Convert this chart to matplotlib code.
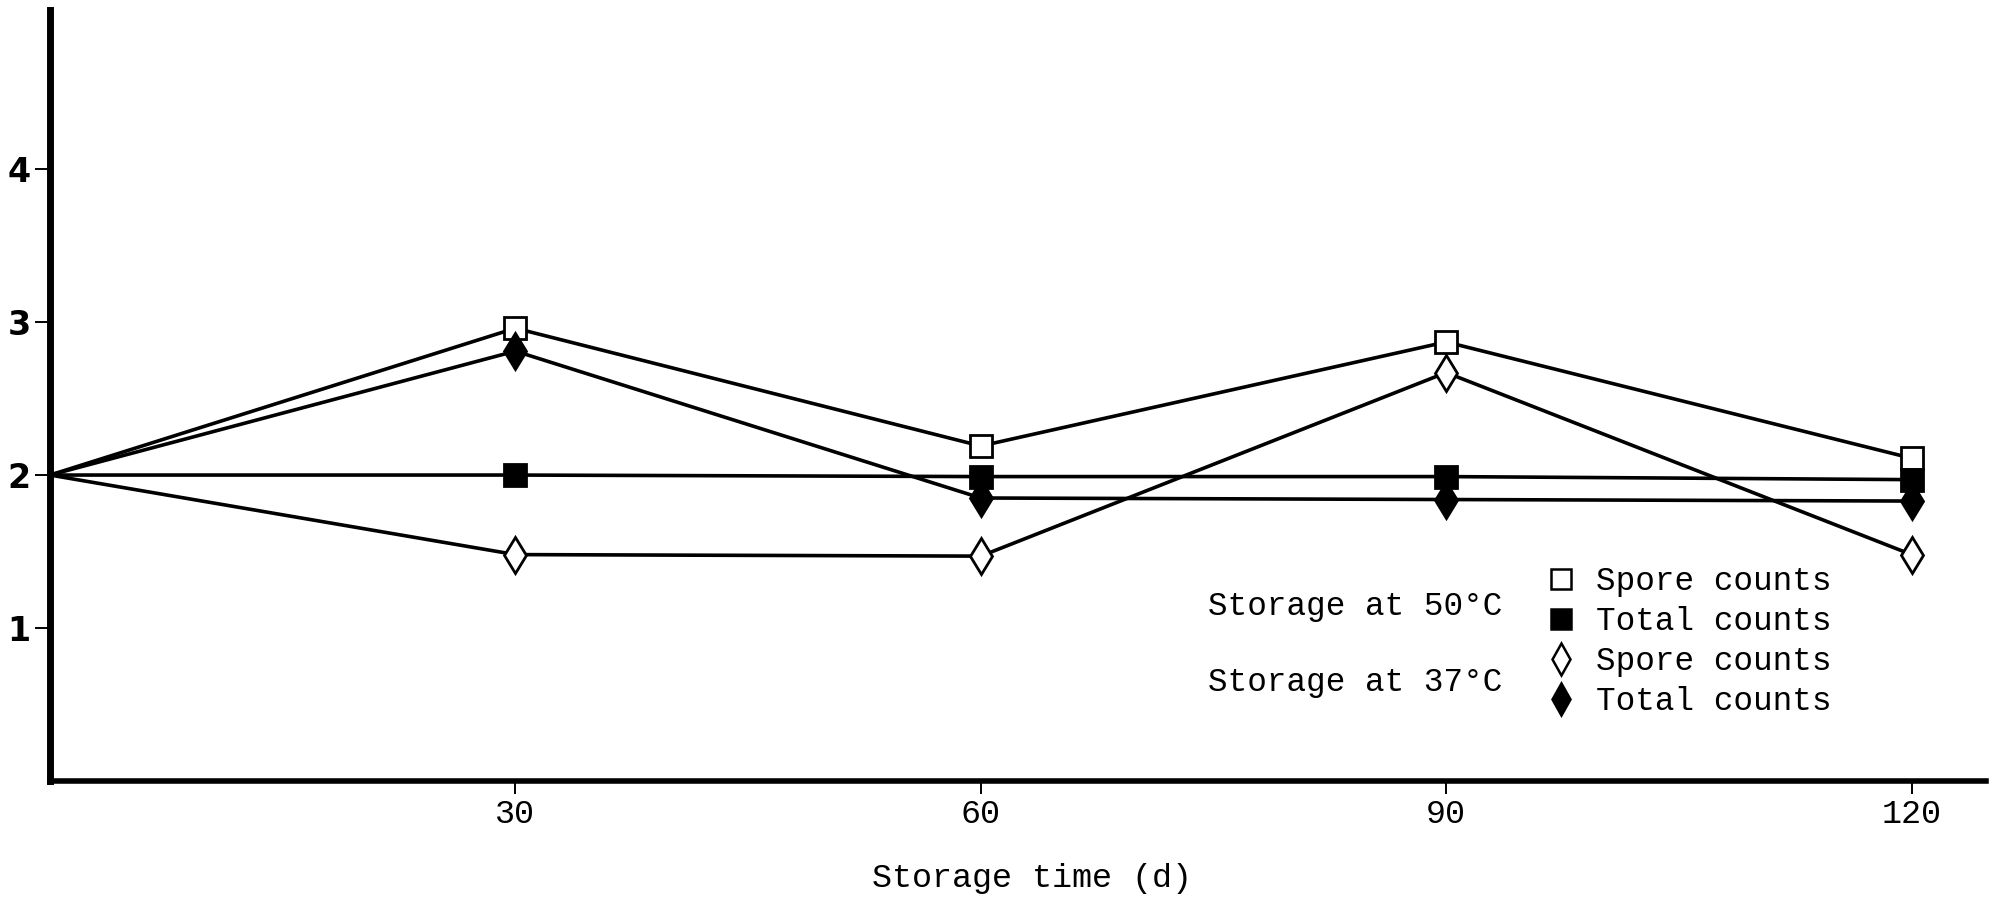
import matplotlib
matplotlib.use("Agg")
import matplotlib.pyplot as plt
from matplotlib.lines import Line2D

# storage time (d) and log counts
days = [0, 30, 60, 90, 120]
spore_50 = [2.0, 2.96, 2.19, 2.87, 2.11]
total_50 = [2.0, 2.00, 1.99, 1.99, 1.97]
spore_37 = [2.0, 1.48, 1.47, 2.67, 1.48]
total_37 = [2.0, 2.81, 1.85, 1.84, 1.83]

xticks = [30, 60, 90, 120]
yticks = [1, 2, 3, 4]
legend_labels = ["Spore counts", "Total counts", "Spore counts", "Total counts"]
group_labels = ["Storage at 50\u00b0C", "Storage at 37\u00b0C"]

MONO = "Liberation Mono"
W, H = 1990, 901

fig = plt.figure(figsize=(W / 100, H / 100), dpi=100)
ax = fig.add_axes([50 / W, 120 / H, (1986 - 50) / W, (781 - 10) / H])

styles = [
    (spore_50, "s", "white", 16),
    (total_50, "s", "black", 16),
    (spore_37, "d", "white", 18),
    (total_37, "d", "black", 18),
]
for ys, mk, fc, ms in styles:
    ax.plot(days, ys, color="black", lw=2.6, marker=mk, ms=ms, mfc=fc,
            mec="black", mew=2.0, markevery=slice(1, None), zorder=3)

ax.set_xlim(0, 124.8)
ax.set_ylim(0, 5.04)
ax.set_xticks(xticks)
ax.set_yticks(yticks)
ax.set_xticklabels([str(t) for t in xticks], family=MONO, fontsize=24)
ax.set_yticklabels([str(t) for t in yticks], family="DejaVu Sans",
                   fontweight="bold", fontsize=24)
ax.tick_params(axis="x", direction="out", length=9, width=1.4, pad=4)
ax.tick_params(axis="y", direction="out", length=11, width=1.4, pad=3)
for side in ("top", "right"):
    ax.spines[side].set_visible(False)
ax.spines["left"].set_linewidth(5)
ax.spines["bottom"].set_linewidth(4.0)

ax.set_xlabel("Storage time (d)", family=MONO, fontsize=24)
ax.xaxis.set_label_coords(0.507, -0.107)

handles = [Line2D([], [], ls="none", marker=mk, ms=ms - 2, mfc=fc, mec="black", mew=1.8)
           for _, mk, fc, ms in styles]
ax.legend(handles, legend_labels, loc="upper left", frameon=False,
          bbox_to_anchor=(1545 / W, 1 - 566 / H), bbox_transform=fig.transFigure,
          prop={"family": MONO, "size": 23.5}, handlelength=1.0, handletextpad=0.55,
          labelspacing=0.28, borderpad=0, borderaxespad=0)

for lbl, ypx in zip(group_labels, [607, 682]):
    fig.text(1208 / W, 1 - ypx / H, lbl, family=MONO, fontsize=23.5,
             ha="left", va="center")

fig.savefig("out.png", dpi=100)
